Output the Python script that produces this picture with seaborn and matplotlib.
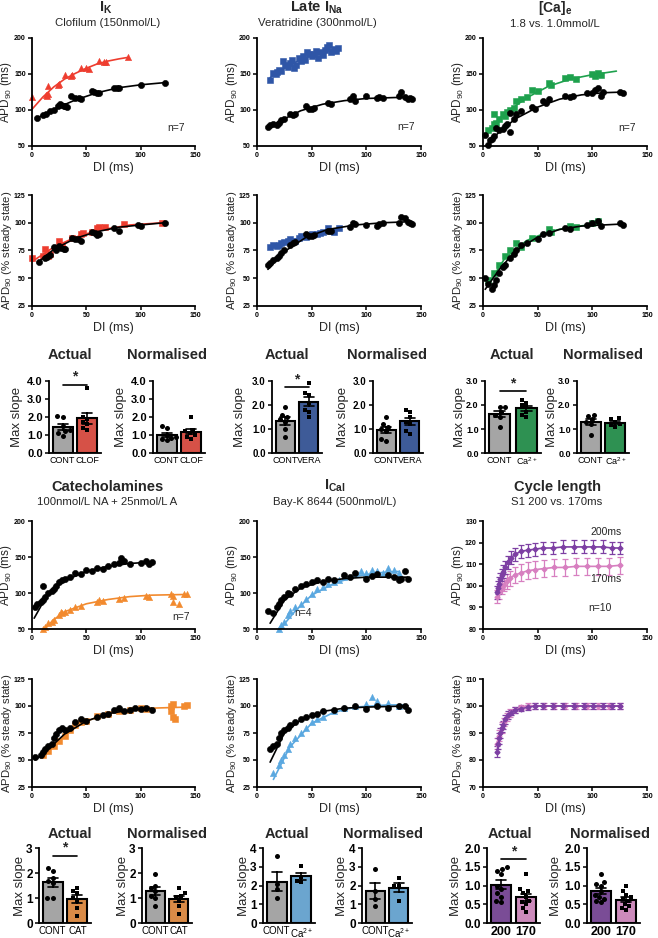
import numpy as np
import pandas as pd
import matplotlib
matplotlib.use("Agg")
import matplotlib.pyplot as plt
from matplotlib.ticker import FormatStrFormatter
import seaborn as sns

sns.set_theme(style="ticks")
plt.rcParams['font.family'] = ['Liberation Sans', 'DejaVu Sans']
plt.rcParams['mathtext.fontset'] = 'custom'
plt.rcParams['mathtext.rm'] = 'Liberation Sans'
plt.rcParams['mathtext.it'] = 'Liberation Sans:italic'
plt.rcParams['mathtext.bf'] = 'Liberation Sans:bold'

RED = '#ee3d2f'
BLUE = '#2f56a7'
GREEN = '#1ea14d'
ORANGE = '#f28a2e'
LBLUE = '#5aa8e0'
PURPLE = '#7d3fa3'
PINK = '#d77fc0'
GREY = '#a5a5a5'

# ---------------- restitution data (DI, APD90) ----------------
ik_ctrl = [(5, 89), (10, 93), (13, 95), (17, 99), (20, 100), (24, 105), (26, 108), (27, 107), (29, 105),
           (30, 106), (32, 104), (36, 119), (40, 116), (43, 117), (45, 115), (55, 127), (57, 125), (60, 124),
           (62, 123), (75, 131), (78, 130), (80, 130), (100, 135), (122, 138)]
ik_drug = [(0, 118), (13, 121), (14, 120), (15, 133), (15, 122), (24, 135), (25, 136), (30, 149), (36, 147),
           (37, 148), (45, 159), (50, 158), (52, 157), (62, 168), (66, 167), (68, 166), (88, 173)]
ik_ctrl_fit = [(5, 89), (20, 101), (40, 114), (60, 124), (80, 131), (100, 135), (122, 138)]
ik_drug_fit = [(0, 101), (10, 118), (20, 132), (30, 143), (40, 151), (50, 158), (60, 164), (70, 168), (80, 171), (88, 173)]

ikn_ctrl = [(6, 65), (12, 68), (14, 69), (17, 71), (20, 78), (22, 75), (25, 79), (27, 77), (29, 76), (30, 76),
            (37, 86), (40, 85), (42, 85), (45, 84), (55, 92), (58, 91), (60, 89), (62, 90), (75, 95), (80, 93),
            (98, 98), (100, 97), (122, 100)]
ikn_drug = [(0, 68), (10, 70), (12, 76), (13, 70), (15, 70), (17, 72), (25, 84), (28, 80), (37, 86), (45, 90),
            (47, 91), (55, 92), (60, 95), (62, 96), (67, 96), (85, 99), (120, 100)]
ikn_ctrl_fit = [(5, 64), (20, 76), (40, 86), (60, 92), (80, 96), (100, 98), (122, 100)]
ikn_drug_fit = [(0, 65), (20, 78), (40, 87), (60, 93), (90, 98), (120, 100)]

na_ctrl = [(10, 77), (12, 79), (15, 80), (18, 79), (20, 82), (22, 86), (25, 88), (30, 95), (33, 93), (35, 94),
           (45, 105), (48, 102), (50, 101), (52, 103), (65, 110), (68, 109), (85, 115), (88, 119), (90, 113),
           (100, 119), (110, 116), (112, 118), (115, 117), (130, 120), (132, 125), (135, 118), (138, 115),
           (140, 116), (142, 115)]
na_drug = [(12, 141), (15, 152), (17, 150), (18, 153), (20, 155), (22, 154), (24, 168), (26, 162), (28, 160),
           (30, 165), (32, 170), (34, 158), (36, 163), (38, 172), (40, 168), (42, 175), (44, 170), (46, 180),
           (48, 178), (50, 175), (52, 178), (54, 182), (56, 172), (58, 180), (60, 176), (62, 183), (64, 188),
           (66, 190), (68, 180), (70, 185), (72, 182), (74, 186)]
na_ctrl_fit = [(10, 74), (20, 84), (40, 99), (60, 108), (80, 113), (100, 116), (120, 117), (140, 118)]
na_drug_fit = [(12, 145), (30, 163), (50, 176), (75, 186)]

nan_ctrl = [(10, 62), (12, 64), (15, 66), (18, 68), (20, 70), (22, 73), (25, 75), (30, 80), (33, 82), (35, 83),
            (45, 90), (48, 88), (50, 88), (52, 89), (65, 93), (68, 93), (85, 96), (88, 100), (90, 99), (100, 98),
            (110, 97), (112, 99), (115, 100), (130, 100), (132, 105), (135, 104), (138, 101), (140, 100), (142, 99)]
nan_drug = [(12, 78), (15, 80), (18, 79), (20, 80), (22, 82), (25, 83), (28, 84), (30, 85), (35, 84), (38, 86),
            (40, 88), (45, 87), (48, 89), (50, 90), (55, 90), (58, 91), (60, 92), (65, 95), (68, 93), (70, 92), (75, 95)]
nan_ctrl_fit = [(10, 58), (25, 74), (45, 87), (65, 94), (90, 98), (115, 100), (142, 101)]
nan_drug_fit = [(12, 77), (30, 84), (50, 89), (75, 95)]

ca_ctrl = [(2, 65), (5, 52), (6, 58), (8, 60), (10, 64), (12, 75), (15, 72), (18, 74), (20, 78), (22, 80),
           (25, 70), (25, 96), (28, 88), (30, 95), (35, 98), (45, 104), (48, 102), (55, 113), (58, 110), (60, 115),
           (75, 120), (80, 118), (82, 120), (95, 124), (100, 123), (102, 128), (105, 130), (108, 120), (110, 125),
           (125, 125), (128, 123)]
ca_drug = [(5, 72), (8, 75), (10, 80), (10, 95), (12, 82), (15, 87), (18, 95), (20, 92), (22, 97), (25, 100),
           (28, 103), (30, 112), (35, 115), (40, 118), (45, 128), (50, 126), (60, 138), (62, 135), (75, 144),
           (80, 146), (85, 143), (100, 150), (102, 147), (105, 152), (108, 148)]
ca_ctrl_fit = [(2, 48), (15, 70), (30, 88), (50, 104), (70, 115), (90, 121), (110, 124), (130, 125)]
ca_drug_fit = [(5, 68), (20, 95), (40, 117), (60, 133), (80, 143), (100, 149), (122, 154)]

can_ctrl = [(2, 50), (5, 45), (8, 40), (10, 44), (12, 48), (15, 55), (18, 60), (20, 62), (25, 68), (28, 72),
            (30, 75), (35, 80), (40, 82), (50, 85), (55, 90), (60, 91), (75, 95), (80, 94), (95, 98), (100, 100),
            (105, 102), (108, 97), (125, 100), (128, 98)]
can_drug = [(5, 48), (10, 55), (15, 62), (20, 70), (25, 75), (30, 82), (35, 78), (45, 86), (60, 94), (62, 92),
            (80, 97), (85, 96), (100, 100), (105, 102)]
can_ctrl_fit = [(2, 40), (15, 58), (30, 75), (50, 87), (70, 94), (90, 97), (110, 98), (130, 99)]
can_drug_fit = [(5, 45), (20, 68), (40, 84), (60, 92), (80, 96), (105, 99)]

cat_ctrl = [(3, 80), (5, 85), (8, 88), (10, 90), (10, 110), (12, 95), (15, 100), (18, 103), (20, 105), (22, 110),
            (25, 115), (28, 118), (30, 120), (35, 122), (40, 128), (45, 127), (50, 132), (55, 130), (60, 135),
            (65, 134), (70, 138), (75, 140), (80, 142), (82, 148), (85, 145), (90, 140), (100, 142), (105, 145),
            (108, 140), (110, 143)]
cat_drug = [(10, 50), (12, 53), (15, 58), (18, 60), (20, 62), (25, 70), (27, 74), (28, 72), (30, 73), (35, 77),
            (40, 80), (45, 82), (60, 88), (62, 90), (65, 89), (80, 92), (85, 93), (105, 96), (108, 95), (128, 98),
            (130, 96), (130, 88), (135, 85), (140, 98), (143, 99)]
cat_ctrl_fit = [(2, 65), (15, 100), (30, 117), (50, 130), (70, 137), (90, 141), (110, 143)]
cat_drug_fit = [(10, 48), (20, 63), (30, 74), (50, 85), (70, 91), (90, 95), (110, 97), (143, 98)]

catn_ctrl = [(3, 53), (8, 55), (10, 57), (12, 60), (15, 63), (18, 65), (20, 70), (22, 74), (25, 78), (28, 80),
             (30, 78), (35, 80), (40, 85), (45, 88), (50, 86), (60, 90), (65, 92), (70, 93), (75, 96), (80, 98),
             (85, 95), (90, 96), (95, 98), (100, 97), (105, 98), (110, 96)]
catn_drug = [(10, 55), (15, 58), (20, 63), (25, 68), (30, 72), (35, 78), (40, 82), (45, 85), (50, 86), (60, 91),
             (70, 93), (80, 95), (90, 96), (100, 98), (105, 97), (128, 100), (130, 102), (128, 95), (130, 90),
             (132, 88), (140, 100), (143, 101)]
catn_ctrl_fit = [(3, 50), (15, 60), (30, 74), (50, 86), (70, 93), (90, 96), (110, 98)]
catn_drug_fit = [(10, 52), (20, 63), (35, 77), (50, 86), (70, 93), (90, 96), (110, 98), (143, 99)]

cal_ctrl = [(10, 75), (15, 72), (18, 80), (20, 85), (22, 90), (25, 95), (28, 100), (30, 98), (35, 105), (40, 110),
            (45, 112), (50, 115), (55, 118), (60, 115), (65, 120), (70, 118), (80, 125), (85, 122), (90, 128),
            (100, 120), (105, 123), (110, 126), (120, 125), (125, 122), (130, 118), (132, 120), (135, 130), (138, 120)]
cal_drug = [(20, 50), (22, 55), (25, 60), (28, 70), (30, 75), (35, 80), (40, 85), (45, 92), (50, 98), (55, 105),
            (60, 108), (65, 112), (70, 115), (75, 118), (80, 122), (90, 127), (95, 130), (100, 128), (105, 132),
            (110, 130), (115, 128), (120, 135), (125, 132), (130, 128)]
cal_ctrl_fit = [(12, 58), (25, 90), (40, 107), (60, 116), (80, 120), (100, 122), (120, 122), (138, 122)]
cal_drug_fit = [(20, 48), (35, 75), (50, 97), (70, 113), (90, 123), (110, 128), (130, 130)]

caln_ctrl = [(12, 60), (15, 63), (18, 65), (20, 70), (22, 75), (25, 78), (28, 80), (30, 82), (35, 85), (40, 88),
             (45, 90), (50, 92), (55, 93), (60, 95), (70, 96), (80, 98), (90, 100), (100, 97), (110, 100),
             (120, 98), (130, 100), (135, 100), (138, 96)]
caln_drug = [(15, 38), (20, 45), (22, 50), (25, 55), (28, 60), (30, 65), (35, 70), (40, 75), (45, 80), (50, 85),
             (55, 88), (60, 90), (70, 95), (80, 98), (90, 100), (100, 102), (105, 108), (110, 105), (120, 103), (130, 100)]
caln_ctrl_fit = [(12, 48), (25, 75), (40, 87), (60, 95), (80, 98), (100, 99), (138, 100)]
caln_drug_fit = [(15, 32), (30, 62), (50, 84), (70, 94), (90, 99), (120, 101), (135, 101)]

# cycle length (mean +/- SEM)
cyc200 = [(13, 97), (14, 99), (15, 101), (16, 103), (17, 105), (18, 106.5), (20, 108.5), (23, 111), (26, 113),
          (29, 114.5), (35, 116), (41, 116.5), (48, 117), (55, 117.5), (64, 117.5), (73, 118), (83, 118),
          (92, 118), (101, 118), (110, 118), (118, 117.5), (125, 117.5)]
cyc200_err = [3, 3, 3, 3, 3, 3, 3, 3, 3, 3, 3, 3, 3, 3, 3, 3, 3, 3, 3, 3, 3, 3]
cyc170 = [(13, 95), (15, 97), (17, 99), (19, 100.5), (22, 102), (25, 103.5), (29, 105), (35, 106), (41, 107),
          (48, 107.5), (56, 108), (65, 108.5), (75, 108.5), (85, 109), (95, 109), (105, 109), (115, 109), (125, 109.5)]
cyc170_err = [3, 3, 3, 3, 3.5, 3.5, 3.5, 4, 4, 4, 4, 4, 4, 4, 4, 4, 4, 4]
cycn200 = [(13, 83), (14, 86), (15, 88), (16, 90), (17, 92), (18, 93), (20, 95), (23, 96.5), (26, 97.5),
           (29, 98.5), (35, 99), (41, 99.5), (48, 100), (55, 100), (64, 100), (73, 100), (83, 100), (92, 100),
           (101, 100), (110, 100), (118, 100), (125, 100)]
cycn200_err = [2, 2, 2, 2, 1.5, 1.5, 1.5, 1.5, 1, 1, 1, 1, 1, 1, 1, 1, 1, 1, 1, 1, 1, 1]
cycn170 = [(13, 86), (15, 89), (17, 92), (19, 94), (22, 96), (25, 97.5), (29, 98.5), (35, 99.5), (41, 100),
           (48, 100), (56, 100), (65, 100), (75, 100), (85, 100), (95, 100), (105, 100), (115, 100), (125, 100)]
cycn170_err = [2, 2, 2, 1.5, 1.5, 1.5, 1, 1, 1, 1, 1, 1, 1, 1, 1, 1, 1, 1]

# ---------------- max slope data ----------------
ik_act_cont = [2.0, 2.05, 1.5, 1.3, 1.2, 1.1, 0.95]
ik_act_clof = [3.6, 2.0, 1.9, 1.7, 1.4, 1.3, 1.6]
ik_nor_cont = [1.5, 1.4, 1.0, 0.9, 0.8, 0.85, 0.7]
ik_nor_clof = [2.0, 1.3, 1.2, 1.1, 1.0, 0.9, 0.8]
na_act_cont = [1.9, 1.6, 1.5, 1.4, 1.3, 1.0, 0.65]
na_act_vera = [2.9, 2.5, 2.4, 2.1, 1.8, 1.7, 1.5]
na_nor_cont = [1.5, 1.2, 1.1, 1.0, 0.9, 0.6, 0.5]
na_nor_vera = [1.8, 1.7, 1.5, 1.3, 1.2, 0.9, 0.8]
ca_act_cont = [1.9, 1.9, 1.7, 1.6, 1.5, 1.1]
ca_act_ca = [2.2, 2.1, 2.0, 1.9, 1.7, 1.6, 1.5]
ca_nor_cont = [1.6, 1.55, 1.4, 1.3, 1.2, 0.75]
ca_nor_ca = [1.45, 1.4, 1.3, 1.2, 1.15, 1.1]
cat_act_cont = [2.2, 2.1, 1.8, 1.7, 1.6, 1.0, 1.0]
cat_act_cat = [1.4, 1.3, 1.2, 1.0, 0.6, 0.3, 0.9]
cat_nor_cont = [1.95, 1.5, 1.4, 1.3, 1.0, 0.7, 1.1]
cat_nor_cat = [1.4, 1.2, 1.1, 1.05, 0.7, 0.35, 0.9]
cal_act_cont = [3.6, 2.1, 1.8, 1.35]
cal_act_ca = [3.05, 2.45, 2.25, 2.2]
cal_nor_cont = [2.9, 1.7, 1.3, 0.9]
cal_nor_ca = [2.4, 2.0, 1.95, 1.2]
cyc_act_200 = [1.5, 1.4, 1.45, 1.3, 1.0, 0.9, 0.8, 0.7, 0.6, 0.55]
cyc_act_170 = [1.3, 0.9, 0.85, 0.8, 0.7, 0.6, 0.5, 0.4, 0.3, 0.55]
cyc_nor_200 = [1.3, 1.1, 1.05, 1.0, 0.85, 0.75, 0.7, 0.65, 0.6, 0.55]
cyc_nor_170 = [1.0, 0.85, 0.75, 0.7, 0.65, 0.6, 0.5, 0.45, 0.4, 0.35]

W, H = 658, 938
fig = plt.figure(figsize=(W / 100, H / 100), dpi=100)


def box(l, t, r, b):
    return fig.add_axes([l / W, 1 - b / H, (r - l) / W, (b - t) / H])


def ftext(x, y, s, **kw):
    fig.text(x / W, 1 - y / H, s, ha='center', va='center', **kw)


def ylab_at(ax, off_px):
    w = ax.get_position().width * W
    ax.yaxis.set_label_coords(off_px / w, 0.5)


def style(ax, size, bold=True):
    sns.despine(ax=ax)
    for sp in ['left', 'bottom']:
        ax.spines[sp].set_linewidth(1.3)
        ax.spines[sp].set_color('black')
    ax.tick_params(length=3, width=1.1, labelsize=size, pad=1.5, colors='black')
    if bold:
        for t in ax.get_xticklabels() + ax.get_yticklabels():
            t.set_fontweight('bold')


def restitution(ax, ctrl, drug, ctrl_fit, drug_fit, color, marker, ylim, yticks, ylabel):
    dx, dy = zip(*drug)
    cx, cy = zip(*ctrl)
    sns.scatterplot(x=list(dx), y=list(dy), color=color, marker=marker, s=20, edgecolor=color,
                    linewidth=0.4, ax=ax, zorder=2, clip_on=False)
    fx, fy = zip(*drug_fit)
    ax.plot(fx, fy, color=color, lw=1.2, zorder=2)
    sns.scatterplot(x=list(cx), y=list(cy), color='black', marker='o', s=20, edgecolor='black',
                    linewidth=0.4, ax=ax, zorder=3, clip_on=False)
    fx, fy = zip(*ctrl_fit)
    ax.plot(fx, fy, color='black', lw=1.2, zorder=3)
    finish_scatter(ax, ylim, yticks, ylabel)


def finish_scatter(ax, ylim, yticks, ylabel):
    ax.set_xlim(0, 150)
    ax.set_xticks([0, 50, 100, 150])
    ax.set_ylim(*ylim)
    ax.set_yticks(yticks)
    ax.set_xlabel('DI (ms)', fontsize=9, labelpad=2)
    ax.set_ylabel(ylabel, fontsize=8.5 if ylabel == APD else 8.2)
    ylab_at(ax, -17.5 if ylabel == APD else -18)
    style(ax, 5)


def maxslope(ax, cats, v0, v1, colors, ylim, yticks, fmt, lab_off, sig=None, ysize=7,
             catsize=6.5, catbold=False):
    df = pd.DataFrame({'g': [cats[0]] * len(v0) + [cats[1]] * len(v1), 'v': v0 + v1})
    sns.barplot(data=df, x='g', y='v', hue='g', order=cats, hue_order=cats, palette=colors, legend=False,
                errorbar='se', capsize=0.4, width=0.8, edgecolor='black', linewidth=1.5,
                err_kws={'color': 'black', 'linewidth': 1.2}, ax=ax)
    sns.swarmplot(x=[cats[0]] * len(v0), y=v0, order=cats, color='black', marker='o', size=3.6, ax=ax, zorder=4)
    sns.swarmplot(x=[cats[1]] * len(v1), y=v1, order=cats, color='black', marker='s', size=3.4, ax=ax, zorder=4)
    ax.set_xlim(-0.55, 1.55)
    ax.set_ylim(*ylim)
    ax.set_yticks(yticks)
    ax.yaxis.set_major_formatter(FormatStrFormatter(fmt))
    ax.set_xlabel('')
    ax.set_ylabel('Max slope', fontsize=9.5)
    ylab_at(ax, lab_off)
    if sig is not None:
        ax.plot([0, 1], [sig, sig], color='black', lw=1.2, clip_on=False)
        ax.text(0.5, sig * 1.01, '*', ha='center', va='bottom', fontsize=10, fontweight='bold')
    style(ax, ysize)
    ax.tick_params(axis='x', length=0, labelsize=catsize, pad=2)
    for t in ax.get_xticklabels():
        t.set_fontweight('bold' if catbold else 'normal')


COLX = [(32, 195), (257, 421), (483, 647)]
APD = 'APD$_{90}$ (ms)'
NORM = 'APD$_{90}$ (% steady state)'

# ---- row 1/2 ----
panels_top = [
    (ik_ctrl, ik_drug, ik_ctrl_fit, ik_drug_fit, ikn_ctrl, ikn_drug, ikn_ctrl_fit, ikn_drug_fit, RED, '^', 's'),
    (na_ctrl, na_drug, na_ctrl_fit, na_drug_fit, nan_ctrl, nan_drug, nan_ctrl_fit, nan_drug_fit, BLUE, 's', 's'),
    (ca_ctrl, ca_drug, ca_ctrl_fit, ca_drug_fit, can_ctrl, can_drug, can_ctrl_fit, can_drug_fit, GREEN, 's', 's'),
]
notes = [(133, 75), (136, 76), (132, 75)]
for (l, r), p, nt in zip(COLX, panels_top, notes):
    a1 = box(l, 38, r, 146)
    restitution(a1, p[0], p[1], p[2], p[3], p[8], p[9], (50, 200), [50, 100, 150, 200], APD)
    a1.text(nt[0], nt[1], 'n=7', ha='center', va='center', fontsize=7.5)
    a2 = box(l, 195, r, 306)
    restitution(a2, p[4], p[5], p[6], p[7], p[8], p[10], (25, 125), [25, 50, 75, 100, 125], NORM)

# ---- row 4/5 ----
a = box(32, 521, 195, 629)
restitution(a, cat_ctrl, cat_drug, cat_ctrl_fit, cat_drug_fit, ORANGE, '^', (50, 200), [50, 100, 150, 200], APD)
a.text(137, 67, 'n=7', ha='center', va='center', fontsize=7.5)
a = box(32, 679, 195, 787)
restitution(a, catn_ctrl, catn_drug, catn_ctrl_fit, catn_drug_fit, ORANGE, 's', (25, 125), [25, 50, 75, 100, 125], NORM)

a = box(257, 521, 421, 629)
restitution(a, cal_ctrl, cal_drug, cal_ctrl_fit, cal_drug_fit, LBLUE, '^', (50, 200), [50, 100, 150, 200], APD)
a.text(42, 72, 'n=4', ha='center', va='center', fontsize=7.5)
a = box(257, 679, 421, 787)
restitution(a, caln_ctrl, caln_drug, caln_ctrl_fit, caln_drug_fit, LBLUE, '^', (25, 125), [25, 50, 75, 100, 125], NORM)


def cycle(ax, s1, e1, s2, e2, ylim, yticks, ylabel):
    for s, e, c in [(s2, e2, PINK), (s1, e1, PURPLE)]:
        x, y = zip(*s)
        ax.errorbar(x, y, yerr=e, color=c, marker='D', markersize=2.5, lw=1.2, elinewidth=0.9,
                    capsize=2.2, capthick=0.9)
    finish_scatter(ax, ylim, yticks, ylabel)


a = box(483, 521, 647, 629)
cycle(a, cyc200, cyc200_err, cyc170, cyc170_err, (80, 130), [80, 90, 100, 110, 120, 130], APD)
a.text(113, 125, '200ms', ha='center', va='center', fontsize=7.5)
a.text(112, 103, '170ms', ha='center', va='center', fontsize=7.5)
a.text(107, 89.5, 'n=10', ha='center', va='center', fontsize=7.5)
a = box(483, 679, 647, 787)
cycle(a, cycn200, cycn200_err, cycn170, cycn170_err, (70, 110), [70, 80, 90, 100, 110], NORM)

# ---- bar rows ----
maxslope(box(49, 381, 101, 453), ['CONT', 'CLOF'], ik_act_cont, ik_act_clof, [GREY, RED],
         (0, 4), [0, 1, 2, 3, 4], '%.1f', -26, sig=3.8, ysize=8)
maxslope(box(153, 381, 205, 453), ['CONT', 'CLOF'], ik_nor_cont, ik_nor_clof, [GREY, RED],
         (0, 4), [0, 1, 2, 3, 4], '%.1f', -26, ysize=8)
maxslope(box(272, 381, 322, 453), ['CONT', 'VERA'], na_act_cont, na_act_vera, [GREY, BLUE],
         (0, 3), [0, 1, 2, 3], '%.1f', -26, sig=2.75)
maxslope(box(373, 381, 423, 453), ['CONT', 'VERA'], na_nor_cont, na_nor_vera, [GREY, BLUE],
         (0, 3), [0, 1, 2, 3], '%.1f', -24)
maxslope(box(485, 381, 541, 453), ['CONT', 'Ca$^{2+}$'], ca_act_cont, ca_act_ca, [GREY, GREEN],
         (0, 3), [0, 1, 2, 3], '%.1f', -19, sig=2.6, ysize=6.5)
maxslope(box(577, 381, 629, 453), ['CONT', 'Ca$^{2+}$'], ca_nor_cont, ca_nor_ca, [GREY, GREEN],
         (0, 3), [0, 1, 2, 3], '%.1f', -19, ysize=6.5)

maxslope(box(39, 848, 91, 923), ['CONT', 'CAT'], cat_act_cont, cat_act_cat, [GREY, ORANGE],
         (0, 3), [0, 1, 2, 3], '%d', -13, sig=2.7, ysize=8.5, catsize=7)
maxslope(box(142, 848, 192, 923), ['CONT', 'CAT'], cat_nor_cont, cat_nor_cat, [GREY, ORANGE],
         (0, 3), [0, 1, 2, 3], '%d', -13, ysize=8.5, catsize=7)
maxslope(box(263, 848, 315, 923), ['CONT', 'Ca$^{2+}$'], cal_act_cont, cal_act_ca, [GREY, LBLUE],
         (0, 4), [0, 1, 2, 3, 4], '%d', -13, ysize=8.5, catsize=7)
maxslope(box(362, 848, 412, 923), ['CONT', 'Ca$^{2+}$'], cal_nor_cont, cal_nor_ca, [GREY, LBLUE],
         (0, 4), [0, 1, 2, 3, 4], '%d', -14, ysize=8.5, catsize=7)
maxslope(box(487, 848, 540, 923), ['200', '170'], cyc_act_200, cyc_act_170, [PURPLE, PINK],
         (0, 2), [0, 0.5, 1.0, 1.5, 2.0], '%.1f', -25, sig=1.7, ysize=8.5, catsize=9, catbold=True)
maxslope(box(587, 848, 640, 923), ['200', '170'], cyc_nor_200, cyc_nor_170, [PURPLE, PINK],
         (0, 2), [0, 0.5, 1.0, 1.5, 2.0], '%.1f', -25, ysize=8.5, catsize=9, catbold=True)

# ---- titles ----
TB = dict(fontsize=10.5, fontweight='bold')
TS = dict(fontsize=8.2)
ftext(106, 8, r'$\mathbf{I_K}$', **TB)
ftext(108, 23, 'Clofilum (150nmol/L)', **TS)
ftext(317, 8, r'Late $\mathbf{I_{Na}}$', **TB)
ftext(317, 23, 'Veratridine (300nmol/L)', **TS)
ftext(555, 8, r'$\mathbf{[Ca]_e}$', fontsize=10, fontweight='bold')
ftext(555, 24, '1.8 vs. 1.0mmol/L', **TS)
ftext(107, 487, 'Catecholamines', **TB)
ftext(107, 502, '100nmol/L NA + 25nmol/L A', **TS)
ftext(335, 486, r'$\mathbf{I_{Cal}}$', **TB)
ftext(335, 502, 'Bay-K 8644 (500nmol/L)', **TS)
ftext(557, 487, 'Cycle length', **TB)
ftext(557, 502, 'S1 200 vs. 170ms', **TS)

for y, xs in [(355, [70, 167, 287, 387, 512, 603]), (834, [70, 167, 287, 383, 510, 610])]:
    for x, t in zip(xs, ['Actual', 'Normalised'] * 3):
        ftext(x, y, t, **TB)

fig.savefig('out.png', dpi=100)
